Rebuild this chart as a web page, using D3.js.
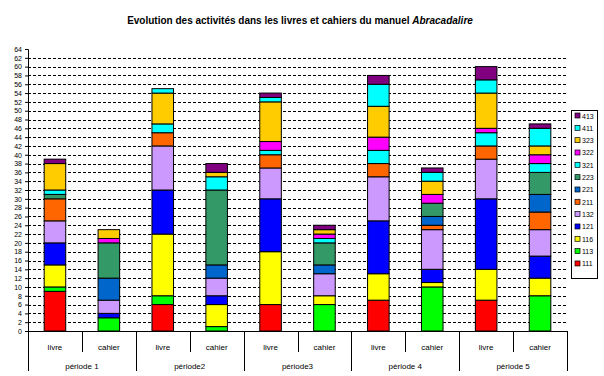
<!DOCTYPE html>
<html>
<head>
<meta charset="utf-8">
<script src="https://cdn.jsdelivr.net/npm/d3@7"></script>
<style>
  body { margin: 0; background: #fff; }
  svg text { font-family: "Liberation Sans", Arial, sans-serif; fill: #000; }
</style>
</head>
<body>
<div id="chart"></div>
<script>
// periods and the two kinds of book in each
var periods = ["période 1", "période2", "période3", "période 4", "période 5"];
var books = ["livre", "cahier"];

// activity codes, bottom of the stack first
var codes = ["111", "113", "116", "121", "132", "211", "221", "223", "321", "322", "323", "411", "413"];
var codeColors = ["#ff0000", "#00ff00", "#ffff00", "#0000ff", "#cc99ff", "#ff6600", "#0066cc",
                  "#339966", "#00ffff", "#ff00ff", "#ffcc00", "#00ffff", "#800080"];

// one value per bar: p1 livre, p1 cahier, p2 livre, p2 cahier, ... p5 cahier
var v111 = [9, 0, 6, 0, 6, 0, 7, 0, 7, 0];
var v113 = [1, 3, 2, 1, 0, 6, 0, 10, 0, 8];
var v116 = [5, 0, 14, 5, 12, 2, 6, 1, 7, 4];
var v121 = [5, 1, 10, 2, 12, 0, 12, 3, 16, 5];
var v132 = [5, 3, 10, 4, 7, 5, 10, 9, 9, 6];
var v211 = [5, 0, 3, 0, 3, 0, 3, 1, 3, 4];
var v221 = [0, 5, 0, 3, 0, 2, 0, 2, 0, 4];
var v223 = [1, 8, 0, 17, 0, 5, 0, 3, 0, 5];
var v321 = [1, 0, 2, 3, 1, 1, 3, 0, 3, 2];
var v322 = [0, 1, 0, 0, 2, 1, 3, 2, 1, 2];
var v323 = [6, 2, 7, 1, 9, 1, 7, 3, 8, 2];
var v411 = [0, 0, 1, 0, 1, 0, 5, 2, 3, 4];
var v413 = [1, 0, 0, 2, 1, 1, 2, 1, 3, 1];
var seriesValues = [v111, v113, v116, v121, v132, v211, v221, v223, v321, v322, v323, v411, v413];

var yTicks = d3.range(0, 65, 2);

var width = 604, height = 376;
var plot = {left: 28, right: 567, top: 49, bottom: 331};

var svg = d3.select("#chart").append("svg")
    .attr("width", width)
    .attr("height", height);

// title
var title = svg.append("text")
    .attr("x", 300)
    .attr("y", 24)
    .attr("text-anchor", "middle")
    .style("font-size", "10px")
    .style("font-weight", "bold");
title.append("tspan").text("Evolution des activités dans les livres et cahiers du manuel ");
title.append("tspan").style("font-style", "italic").text("Abracadalire");

// scales
var y = d3.scaleLinear().domain([0, 64]).range([plot.bottom, plot.top]);
var xPeriod = d3.scaleBand().domain(periods).range([plot.left, plot.right]);
var xBook = d3.scaleBand().domain(books).range([0, xPeriod.bandwidth()]);
var barWidth = xBook.bandwidth() * 0.4;
var color = d3.scaleOrdinal().domain(codes).range(codeColors);

// dashed gridlines
svg.append("g")
    .selectAll("line")
    .data(yTicks.filter(function(d) { return d > 0 && d < 64; }))
    .enter().append("line")
    .attr("x1", plot.left)
    .attr("x2", plot.right)
    .attr("y1", function(d) { return Math.round(y(d)) + 0.5; })
    .attr("y2", function(d) { return Math.round(y(d)) + 0.5; })
    .attr("stroke", "#000")
    .attr("stroke-dasharray", "3,2");

// y axis
var yAxis = svg.append("g")
    .attr("transform", "translate(" + plot.left + ",0)")
    .call(d3.axisLeft(y).tickValues(yTicks).tickSize(3).tickPadding(3));
yAxis.select(".domain").attr("stroke", "#000");
yAxis.selectAll("text").style("font-size", "7px").attr("font-family", null);

// build the stacked data
var bars = [];
periods.forEach(function(p, i) {
  books.forEach(function(b, j) {
    var row = {period: p, book: b};
    codes.forEach(function(c, k) { row[c] = seriesValues[k][i * 2 + j]; });
    bars.push(row);
  });
});
var stacked = d3.stack().keys(codes)(bars);

svg.append("g")
  .selectAll("g")
  .data(stacked)
  .enter().append("g")
    .attr("fill", function(d) { return color(d.key); })
  .selectAll("rect")
  .data(function(d) { return d.filter(function(s) { return s[1] - s[0] > 0; }); })
  .enter().append("rect")
    .attr("x", function(d) {
      return xPeriod(d.data.period) + xBook(d.data.book) + (xBook.bandwidth() - barWidth) / 2;
    })
    .attr("y", function(d) { return y(d[1]); })
    .attr("width", barWidth)
    .attr("height", function(d) { return y(d[0]) - y(d[1]); })
    .attr("stroke", "#000")
    .attr("stroke-width", 1);

// x axis: baseline, separators and two rows of labels
var xAxis = svg.append("g").attr("stroke", "#000");
xAxis.append("line")
    .attr("x1", plot.left).attr("x2", plot.right)
    .attr("y1", plot.bottom + 0.5).attr("y2", plot.bottom + 0.5);

var periodEdges = periods.map(function(p) { return xPeriod(p); }).concat([plot.right]);
xAxis.selectAll(".edge")
    .data(periodEdges)
    .enter().append("line")
    .attr("x1", function(d) { return Math.round(d) + 0.5; })
    .attr("x2", function(d) { return Math.round(d) + 0.5; })
    .attr("y1", plot.bottom)
    .attr("y2", 371);

xAxis.selectAll(".mid")
    .data(periods)
    .enter().append("line")
    .attr("x1", function(p) { return Math.round(xPeriod(p) + xBook("cahier")) + 0.5; })
    .attr("x2", function(p) { return Math.round(xPeriod(p) + xBook("cahier")) + 0.5; })
    .attr("y1", plot.bottom)
    .attr("y2", 352);

svg.append("g")
  .selectAll("text")
  .data(bars)
  .enter().append("text")
    .attr("x", function(d) { return xPeriod(d.period) + xBook(d.book) + xBook.bandwidth() / 2; })
    .attr("y", 350)
    .attr("text-anchor", "middle")
    .style("font-size", "8px")
    .text(function(d) { return d.book; });

svg.append("g")
  .selectAll("text")
  .data(periods)
  .enter().append("text")
    .attr("x", function(p) { return xPeriod(p) + xPeriod.bandwidth() / 2; })
    .attr("y", 369)
    .attr("text-anchor", "middle")
    .style("font-size", "8px")
    .text(function(p) { return p; });

// legend, top entry first
var legend = svg.append("g");
legend.append("rect")
    .attr("x", 571.5).attr("y", 110.5)
    .attr("width", 26).attr("height", 168)
    .attr("fill", "#fff").attr("stroke", "#000");

var legendItems = legend.selectAll(".item")
    .data(codes.slice().reverse())
    .enter().append("g")
    .attr("transform", function(d, i) { return "translate(575," + (116 + i * 12.33) + ")"; });
legendItems.append("rect")
    .attr("x", 0).attr("y", -3)
    .attr("width", 5).attr("height", 5)
    .attr("fill", function(d) { return color(d); })
    .attr("stroke", "#000")
    .attr("stroke-width", 0.7);
legendItems.append("text")
    .attr("x", 7)
    .attr("y", 2.5)
    .style("font-size", "7px")
    .text(function(d) { return d; });
</script>
</body>
</html>
